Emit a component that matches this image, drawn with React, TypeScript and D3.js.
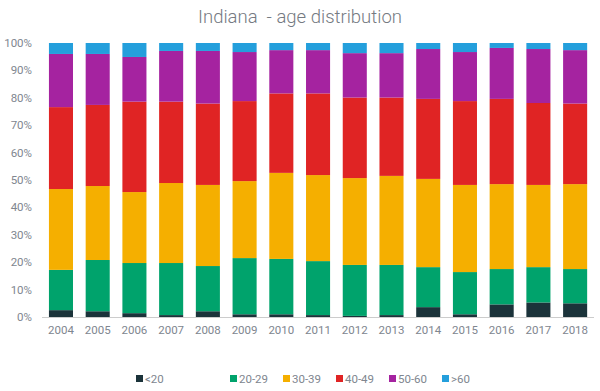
import React from "react";
import * as d3 from "d3";

const years = ["2004","2005","2006","2007","2008","2009","2010","2011","2012","2013","2014","2015","2016","2017","2018"];
const groups = ["<20","20-29","30-39","40-49","50-60",">60"];
const colors = ["#1b333a","#00a36c","#f5af00","#e02424","#a523a0","#249fdc"];
const under20 = [2.5,2.1,1.4,0.7,2.1,1.0,1.0,0.7,0.4,0.7,3.6,1.0,4.6,5.3,5.0];
const age20 = [14.7,18.7,18.3,19.0,16.5,20.5,20.2,19.7,18.6,18.3,14.6,15.4,12.9,12.9,12.5];
const age30 = [29.5,27.0,25.9,29.2,29.6,28.1,31.4,31.4,31.7,32.5,32.2,31.8,31.0,30.0,31.0];
const age40 = [29.9,29.6,33.0,29.7,29.7,29.2,29.0,29.8,29.4,28.6,29.2,30.6,31.1,29.9,29.4];
const age50 = [19.4,18.6,16.3,18.5,19.2,17.9,15.8,15.8,16.2,16.2,18.2,17.9,18.6,19.7,19.5];
const over60 = [4.0,4.0,5.1,2.9,2.9,3.3,2.6,2.6,3.7,3.7,2.2,3.3,1.8,2.2,2.6];
const yTicks = [0,10,20,30,40,50,60,70,80,90,100];

export default function App() {
  const W = 600, H = 391;
  const left = 42.7, right = 593.4, top = 43, bottom = 317;
  const series = [under20, age20, age30, age40, age50, over60];
  const table = years.map((y, i) => {
    const row: any = { year: y };
    groups.forEach((g, j) => (row[g] = series[j][i]));
    return row;
  });
  const stacked = d3.stack<any>().keys(groups).offset(d3.stackOffsetExpand)(table);
  const x = d3.scaleBand().domain(years).range([left, right]).paddingInner(0.345).paddingOuter(0.17);
  const y = d3.scaleLinear().domain([0, 1]).range([bottom, top]);
  const font = "Roboto, 'Open Sans', sans-serif";
  const legendX = [136, 230, 283, 336, 389, 442];
  const txt = "#80868f";
  return (
    <svg width={W} height={H} style={{ position: "absolute", left: 0, top: 0, fontFamily: font }}>
      <rect width={W} height={H} fill="#fff" />
      <text x={300} y={23} textAnchor="middle" fontSize={18.5} fill="#757a82" fontWeight={300} style={{ whiteSpace: "pre" }}>
        {"Indiana  - age distribution"}
      </text>
      {yTicks.map((t) => (
        <text key={t} x={32} y={y(t / 100) + 4} textAnchor="end" fontSize={11.5} fill={txt}>
          {t}%
        </text>
      ))}
      {stacked.map((s, j) => (
        <g key={groups[j]} fill={colors[j]}>
          {s.map((d, i) => (
            <rect key={i} x={x(years[i])} width={x.bandwidth()} y={y(d[1])} height={y(d[0]) - y(d[1])} />
          ))}
        </g>
      ))}
      <line x1={42} x2={594} y1={bottom + 0.5} y2={bottom + 0.5} stroke="#ccc" />
      {years.map((yr) => (
        <text key={yr} x={(x(yr) as number) + x.bandwidth() / 2} y={334} textAnchor="middle" fontSize={11.5} fill={txt}>
          {yr}
        </text>
      ))}
      {groups.map((g, j) => (
        <g key={g}>
          <rect x={legendX[j]} y={375} width={7} height={7} fill={colors[j]} />
          <text x={legendX[j] + 9} y={382.5} fontSize={11.5} fill={txt}>{g}</text>
        </g>
      ))}
    </svg>
  );
}
